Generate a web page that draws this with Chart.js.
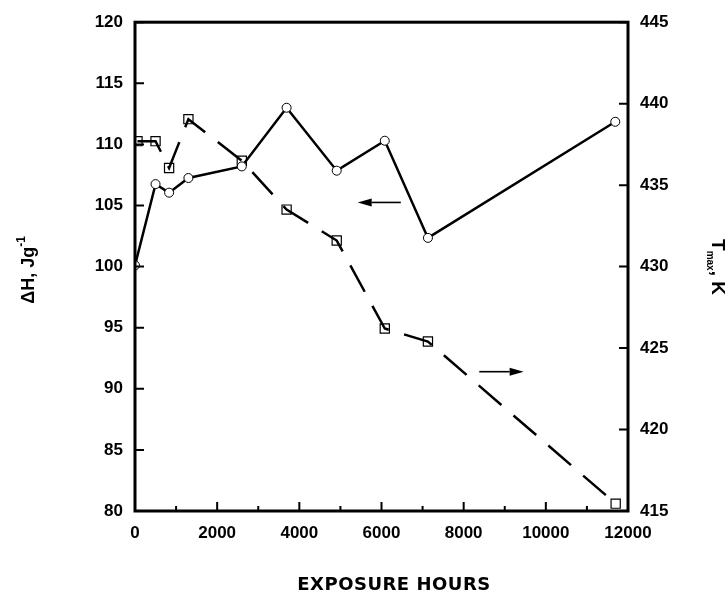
<!DOCTYPE html>
<html>
<head>
<meta charset="utf-8">
<script src="https://cdn.jsdelivr.net/npm/chart.js@4.4.1/dist/chart.umd.min.js"></script>
<style>
  html, body { margin: 0; padding: 0; background: #fff; }
  #wrap { width: 728px; height: 593px; }
</style>
</head>
<body>
<div id="wrap"><canvas id="c" width="728" height="593"></canvas></div>
<script>
// ---- data ----
const dhHours   = [0, 500, 830, 1300, 2600, 3690, 4910, 6080, 7130, 11690];
const dhValues  = [100.1, 106.75, 106.05, 107.25, 108.2, 113.0, 107.85, 110.3, 102.35, 111.85];
const tHours    = [60, 500, 830, 1300, 2600, 3690, 4910, 6080, 7130, 11700];
const tValues   = [437.7, 437.7, 436.05, 439.05, 436.5, 433.5, 431.6, 426.2, 425.4, 415.45];
const xTicks    = [0, 2000, 4000, 6000, 8000, 10000, 12000];
const xMinor    = [1000, 3000, 5000, 7000, 9000, 11000];
const leftTicks = [80, 85, 90, 95, 100, 105, 110, 115, 120];
const rightTicks= [415, 420, 425, 430, 435, 440, 445];
// arrows: [xStart, xEnd, yValue, axis]
const arrowDH   = [6470, 5420, 105.25, 'y'];
const arrowT    = [8380, 9460, 423.55, 'y1'];

const toXY = (xs, ys) => xs.map((x, i) => ({ x: x, y: ys[i] }));

const FONT = "'Liberation Sans', Arial, sans-serif";

const decor = {
  id: 'decor',
  afterDraw(chart) {
    const ctx = chart.ctx;
    const a = chart.chartArea;
    const sx = chart.scales.x, sl = chart.scales.y, sr = chart.scales.y1;
    ctx.save();
    ctx.strokeStyle = '#000';
    ctx.fillStyle = '#000';
    ctx.lineCap = 'butt';
    // frame
    ctx.lineWidth = 3;
    ctx.strokeRect(a.left, a.top, a.right - a.left, a.bottom - a.top);
    // inward ticks
    ctx.lineWidth = 2;
    ctx.beginPath();
    xTicks.forEach(v => { const p = sx.getPixelForValue(v); ctx.moveTo(p, a.bottom); ctx.lineTo(p, a.bottom - 9); });
    xMinor.forEach(v => { const p = sx.getPixelForValue(v); ctx.moveTo(p, a.bottom); ctx.lineTo(p, a.bottom - 5); });
    leftTicks.forEach(v => { const p = sl.getPixelForValue(v); ctx.moveTo(a.left, p); ctx.lineTo(a.left + 9, p); });
    rightTicks.forEach(v => { const p = sr.getPixelForValue(v); ctx.moveTo(a.right, p); ctx.lineTo(a.right - 9, p); });
    ctx.stroke();

    // arrows
    function arrow(def) {
      const sc = chart.scales[def[3]];
      const x0 = sx.getPixelForValue(def[0]);
      const x1 = sx.getPixelForValue(def[1]);
      const y = sc.getPixelForValue(def[2]);
      const dir = Math.sign(x1 - x0);
      const head = 14;
      ctx.lineWidth = 1.6;
      ctx.beginPath();
      ctx.moveTo(x0, y); ctx.lineTo(x1 - dir * head, y);
      ctx.stroke();
      ctx.beginPath();
      ctx.moveTo(x1, y);
      ctx.lineTo(x1 - dir * head, y - 4);
      ctx.lineTo(x1 - dir * head, y + 4);
      ctx.closePath();
      ctx.fill();
    }
    arrow(arrowDH);
    arrow(arrowT);

    // left axis title: ΔH, Jg^-1  (reads bottom to top)
    ctx.save();
    ctx.translate(34, 270);
    ctx.rotate(-Math.PI / 2);
    ctx.textBaseline = 'alphabetic';
    ctx.textAlign = 'left';
    const main = 'ΔH, Jg';
    const sup = '-1';
    ctx.font = 'bold 18px ' + FONT;
    const wMain = ctx.measureText(main).width;
    ctx.font = 'bold 12px ' + FONT;
    const wSup = ctx.measureText(sup).width;
    const tot = wMain + wSup;
    ctx.font = 'bold 18px ' + FONT;
    ctx.fillText(main, -tot / 2, 0);
    ctx.font = 'bold 12px ' + FONT;
    ctx.fillText(sup, -tot / 2 + wMain, -9);
    ctx.restore();

    // right axis title: T_max, K (reads top to bottom)
    ctx.save();
    ctx.translate(712, 267);
    ctx.rotate(Math.PI / 2);
    ctx.textBaseline = 'alphabetic';
    ctx.textAlign = 'left';
    ctx.font = 'bold 19px ' + FONT;
    const wT = ctx.measureText('T').width;
    ctx.font = 'bold 10px ' + FONT;
    const wSub = ctx.measureText('max').width;
    ctx.font = 'bold 19px ' + FONT;
    const wK = ctx.measureText(', K').width;
    const tot2 = wT + wSub + wK;
    let xx = -tot2 / 2;
    ctx.font = 'bold 19px ' + FONT;
    ctx.fillText('T', xx, 0); xx += wT;
    ctx.font = 'bold 10px ' + FONT;
    ctx.fillText('max', xx, 5); xx += wSub;
    ctx.font = 'bold 19px ' + FONT;
    ctx.fillText(', K', xx, 0);
    ctx.restore();

    // x axis title
    ctx.save();
    ctx.font = "bold 18px 'DejaVu Sans', sans-serif";
    ctx.letterSpacing = '0.5px';
    ctx.textAlign = 'center';
    ctx.textBaseline = 'middle';
    ctx.fillText('EXPOSURE HOURS', 394, 585);
    ctx.restore();

    ctx.restore();
  }
};

new Chart(document.getElementById('c'), {
  type: 'scatter',
  data: {
    datasets: [
      {
        label: 'Tmax',
        data: toXY(tHours, tValues),
        yAxisID: 'y1',
        showLine: true,
        borderColor: '#000',
        borderWidth: 2.5,
        borderDash: [30, 16],
        pointStyle: 'rect',
        pointRadius: 6.5,
        pointBorderWidth: 1.2,
        pointBackgroundColor: 'rgba(255,255,255,0)',
        pointBorderColor: '#000',
        order: 2
      },
      {
        label: 'dH',
        data: toXY(dhHours, dhValues),
        yAxisID: 'y',
        showLine: true,
        borderColor: '#000',
        borderWidth: 2.5,
        pointStyle: 'circle',
        pointRadius: 4.5,
        pointBorderWidth: 1,
        pointBackgroundColor: '#fff',
        pointBorderColor: '#000',
        order: 1
      }
    ]
  },
  options: {
    responsive: false,
    animation: false,
    devicePixelRatio: 1,
    layout: { padding: { top: 20, left: 0, right: 0, bottom: 0 } },
    plugins: { legend: { display: false }, tooltip: { enabled: false } },
    scales: {
      x: {
        type: 'linear', min: 0, max: 12000,
        grid: { display: false, drawTicks: false },
        border: { display: false },
        afterBuildTicks: s => { s.ticks = xTicks.map(v => ({ value: v })); },
        afterFit: s => { s.height = 82; },
        ticks: { padding: 12, maxRotation: 0, color: '#000', callback: v => String(v),
                 font: { family: FONT, size: 17, weight: 'bold' } }
      },
      y: {
        type: 'linear', position: 'left', min: 80, max: 120,
        grid: { display: false, drawTicks: false },
        border: { display: false },
        afterBuildTicks: s => { s.ticks = leftTicks.map(v => ({ value: v })); },
        afterFit: s => { s.width = 135; },
        ticks: { padding: 12, color: '#000', font: { family: FONT, size: 17, weight: 'bold' } }
      },
      y1: {
        type: 'linear', position: 'right', min: 415, max: 445,
        grid: { display: false, drawTicks: false },
        border: { display: false },
        afterBuildTicks: s => { s.ticks = rightTicks.map(v => ({ value: v })); },
        afterFit: s => { s.width = 100; },
        ticks: { padding: 12, color: '#000', font: { family: FONT, size: 17, weight: 'bold' } }
      }
    }
  },
  plugins: [decor]
});
</script>
</body>
</html>
